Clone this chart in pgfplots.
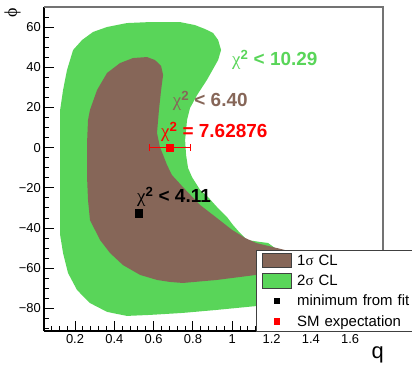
\documentclass[border=0pt]{standalone}
\usepackage{fontspec}
\setmainfont{Liberation Sans}
\newfontfamily\symf{Liberation Serif}
\usepackage{pgfplots}
\pgfplotsset{compat=1.18}
\definecolor{cgreen}{RGB}{89,213,89}
\definecolor{cbrown}{RGB}{134,102,88}
\begin{document}
\begin{tikzpicture}
\useasboundingbox (0,0) rectangle (412bp,365bp);
\begin{axis}[
  at={(44bp,34bp)}, anchor=south west,
  scale only axis, width=339bp, height=324bp,
  xmin=0.042, xmax=1.767, ymin=-91.2, ymax=70,
  clip=false,
  axis x line*=bottom, axis y line*=left,
  axis line style={line width=1.5bp, -},
  tick align=inside,
  xtick={0.2,0.4,0.6,0.8,1.0,1.2,1.4,1.6},
  xticklabels={0.2,0.4,0.6,0.8,1,1.2,1.4,1.6},
  minor xtick={0.08,0.12,...,1.76},
  ytick={-80,-60,-40,-20,0,20,40,60},
  yticklabels={−80,−60,−40,−20,0,20,40,60},
  minor ytick={-90,-85,...,70},
  major tick length=10bp, minor tick length=5bp,
  every tick/.style={black, line width=1bp},
  ticklabel style={font=\fontsize{13}{13}\selectfont, inner sep=3bp},
  legend style={at={(0.6254,0.25)}, anchor=north west, draw=black!75, line width=1bp,
    fill=white, font=\fontsize{15}{15}\selectfont, inner xsep=0pt, inner ysep=0pt,
    row sep=0pt, column sep=0pt,
    nodes={minimum height=20.25bp, inner sep=0pt, text width=130bp, align=left, anchor=west}},
  legend cell align=left,
]
\addlegendimage{legend image code/.code={\draw[fill=cbrown, draw=black!75, line width=1bp] (5.7bp,-7.3bp) rectangle (34.7bp,7.3bp); \path[draw=none,fill=none] (0,0) -- (40.7bp,0);}}
\addlegendentry{1{\symf σ} CL}
\addlegendimage{legend image code/.code={\draw[fill=cgreen, draw=black!75, line width=1bp] (5.7bp,-7.3bp) rectangle (34.7bp,7.3bp); \path[draw=none,fill=none] (0,0) -- (40.7bp,0);}}
\addlegendentry{2{\symf σ} CL}
\addlegendimage{legend image code/.code={\fill[black] (17.5bp,-2.65bp) rectangle (22.8bp,2.65bp); \path[draw=none,fill=none] (0,0) -- (40.7bp,0);}}
\addlegendentry{minimum from fit}
\addlegendimage{legend image code/.code={\fill[red] (17.5bp,-2.65bp) rectangle (22.8bp,2.65bp); \path[draw=none,fill=none] (0,0) -- (40.7bp,0);}}
\addlegendentry{SM expectation}

% 2 sigma region
\addplot[fill=cgreen, draw=none, forget plot] coordinates {
(0.124,-36.0) (0.124,-1.1) (0.124,18.7) (0.139,28.7) (0.159,38.6) (0.190,48.6)
(0.236,53.6) (0.292,57.6) (0.363,60.05) (0.464,62.0) (0.581,62.5) (0.734,62.5)
(0.810,61.0) (0.861,59.05) (0.902,57.1) (0.928,53.6) (0.943,48.6) (0.928,43.6)
(0.871,33.7) (0.821,26.2) (0.785,19.7) (0.770,13.8) (0.760,3.8) (0.765,-3.6)
(0.775,-10.1) (0.795,-14.6) (0.836,-21.0) (0.876,-24.5) (0.922,-29.5) (0.973,-34.5)
(1.004,-38.5) (1.039,-42.4) (1.075,-45.9) (1.141,-46.9) (1.182,-47.4) (1.217,-49.9)
(1.268,-51.9) (1.268,-78.3) (1.121,-78.8) (0.922,-80.7) (0.749,-82.2) (0.581,-83.2)
(0.464,-83.7) (0.363,-81.7) (0.276,-77.3) (0.210,-70.8) (0.164,-62.3) (0.139,-52.4)
(0.124,-43.4)
} -- cycle;
% 1 sigma region
\addplot[fill=cbrown, draw=none, forget plot] coordinates {
(0.261,-14.6) (0.261,2.3) (0.266,13.8) (0.276,18.8) (0.312,28.7) (0.363,37.2)
(0.429,42.1) (0.495,44.6) (0.566,45.1) (0.607,43.6) (0.638,40.6) (0.648,36.2)
(0.638,28.7) (0.627,18.8) (0.617,7.3) (0.632,0.35) (0.648,-3.6) (0.668,-8.6)
(0.693,-13.6) (0.749,-19.6) (0.836,-28.5) (0.922,-35.0) (0.999,-40.9) (1.065,-44.9)
(1.121,-47.4) (1.268,-50.9) (1.268,-62.3) (1.121,-63.3) (0.922,-65.8) (0.749,-67.3)
(0.683,-66.8) (0.617,-65.8) (0.531,-63.3) (0.444,-58.4) (0.378,-52.4) (0.327,-45.9)
(0.276,-36.0) (0.266,-26.0)
} -- cycle;

% minimum from fit
\addplot[only marks, mark=square*, mark size=3.6bp, black, forget plot] coordinates {(0.522,-32.6)};
% SM expectation
\addplot[only marks, mark=square*, mark size=3.4bp, red, forget plot,
  error bars/.cd, x dir=both, x explicit,
  error bar style={line width=1bp, red}] coordinates {(0.680,0) +- (0.104,0)};

\node[anchor=west, inner sep=0, text=cgreen, font=\bfseries\fontsize{19}{19}\selectfont] at (axis cs:0.9986,43.6) {{\symf\mdseries χ}\textsuperscript{2} < 10.29};
\node[anchor=west, inner sep=0, text=cbrown, font=\bfseries\fontsize{19}{19}\selectfont] at (axis cs:0.697,23.2) {{\symf\mdseries χ}\textsuperscript{2} < 6.40};
\node[anchor=west, inner sep=0, text=red, font=\bfseries\fontsize{19}{19}\selectfont] at (axis cs:0.637,7.8) {{\symf\mdseries χ}\textsuperscript{2} = 7.62876};
\node[anchor=west, inner sep=0, text=black, font=\bfseries\fontsize{19}{19}\selectfont] at (axis cs:0.515,-24.5) {{\symf\mdseries χ}\textsuperscript{2} < 4.11};

\draw[black!55, line width=1.5bp] (rel axis cs:0,1) -- (rel axis cs:1,1) -- (rel axis cs:1,0);
\end{axis}
\node[rotate=90, inner sep=0, font=\fontsize{18}{18}\selectfont] at (12.5bp,352.5bp) {{\symf ϕ}};
\node[anchor=base east, inner sep=0, font=\fontsize{22}{22}\selectfont] at (384bp,7bp) {q};
\end{tikzpicture}
\end{document}
